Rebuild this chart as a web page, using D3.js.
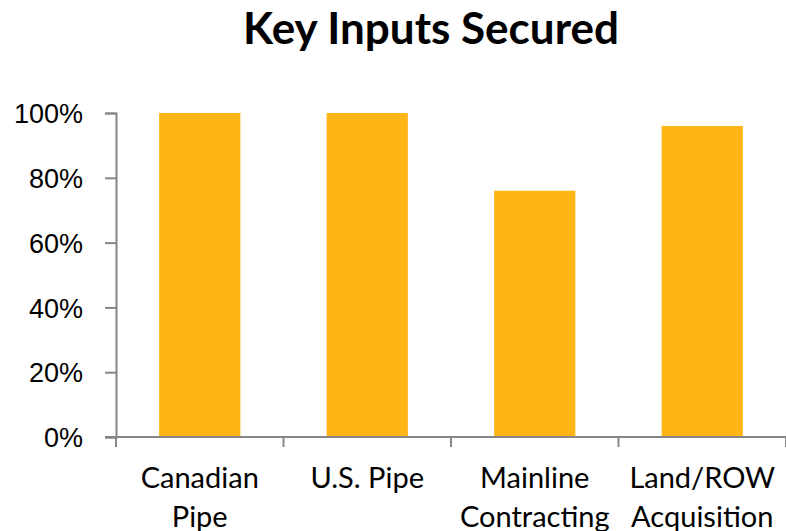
<!DOCTYPE html>
<html>
<head>
<meta charset="utf-8">
<script src="https://cdn.jsdelivr.net/npm/d3@7"></script>
<style>
  html, body { margin: 0; padding: 0; background: #fff; }
  svg { display: block; font-family: Lato, "Open Sans", sans-serif; }
</style>
</head>
<body>
<svg id="chart" width="786" height="531"></svg>
<script>
// Share of each key pipeline input secured
const categories = [["Canadian", "Pipe"], ["U.S. Pipe"], ["Mainline", "Contracting"], ["Land/ROW", "Acquisition"]];
const securedShare = [1.00, 1.00, 0.76, 0.96];
const yTicks = [0, 0.2, 0.4, 0.6, 0.8, 1.0];
const chartTitle = "Key Inputs Secured";

const svg = d3.select("#chart");
const margin = { left: 116, right: 0, top: 113, bottom: 94 };
const W = 786, H = 531;

const x = d3.scaleBand()
  .domain(d3.range(categories.length))
  .range([margin.left, W - margin.right])
  .paddingInner(0.515)
  .paddingOuter(0.2575);

const y = d3.scaleLinear().domain([0, 1]).range([H - margin.bottom, margin.top]);

// Bars
svg.append("g").selectAll("rect")
  .data(securedShare)
  .join("rect")
  .attr("x", (d, i) => x(i))
  .attr("width", x.bandwidth())
  .attr("y", d => y(d))
  .attr("height", d => y(0) - y(d))
  .attr("fill", "#FEB515");

const axisColor = "#868686";

// Y axis
const yAxis = svg.append("g")
  .attr("transform", `translate(${margin.left},0)`)
  .call(d3.axisLeft(y).tickValues(yTicks).tickFormat(d3.format(".0%")).tickSize(11).tickPadding(22));
yAxis.select(".domain").attr("stroke", axisColor).attr("stroke-width", 2);
yAxis.selectAll(".tick line").attr("stroke", axisColor).attr("stroke-width", 2);
yAxis.selectAll(".tick text").attr("fill", "#000").style("font-size", "27px").attr("dy", "0.36em");

// X axis with boundary ticks between categories
const xAxisG = svg.append("g").attr("transform", `translate(0,${y(0)})`);
const step = x.step();
const bounds = d3.range(categories.length + 1).map(i => margin.left + i * step);
xAxisG.append("line")
  .attr("x1", margin.left - 11).attr("x2", W - margin.right)
  .attr("stroke", axisColor).attr("stroke-width", 2);
xAxisG.selectAll("line.bound")
  .data(bounds)
  .join("line")
  .attr("class", "bound")
  .attr("x1", d => d).attr("x2", d => d)
  .attr("y1", 0).attr("y2", 10)
  .attr("stroke", axisColor).attr("stroke-width", 2);

// Category labels
const labels = svg.append("g").selectAll("text")
  .data(categories)
  .join("text")
  .attr("x", (d, i) => x(i) + x.bandwidth() / 2)
  .attr("y", 488)
  .attr("text-anchor", "middle")
  .style("font-size", "29px")
  .attr("fill", "#000");
labels.selectAll("tspan")
  .data(d => d)
  .join("tspan")
  .attr("x", function () { return d3.select(this.parentNode).attr("x"); })
  .attr("dy", (d, i) => i === 0 ? 0 : 38.5)
  .text(d => d);

// Title
svg.append("text")
  .attr("x", 431)
  .attr("y", 44)
  .attr("text-anchor", "middle")
  .style("font-size", "44px")
  .style("font-weight", "bold")
  .attr("fill", "#000")
  .text(chartTitle);
</script>
</body>
</html>
